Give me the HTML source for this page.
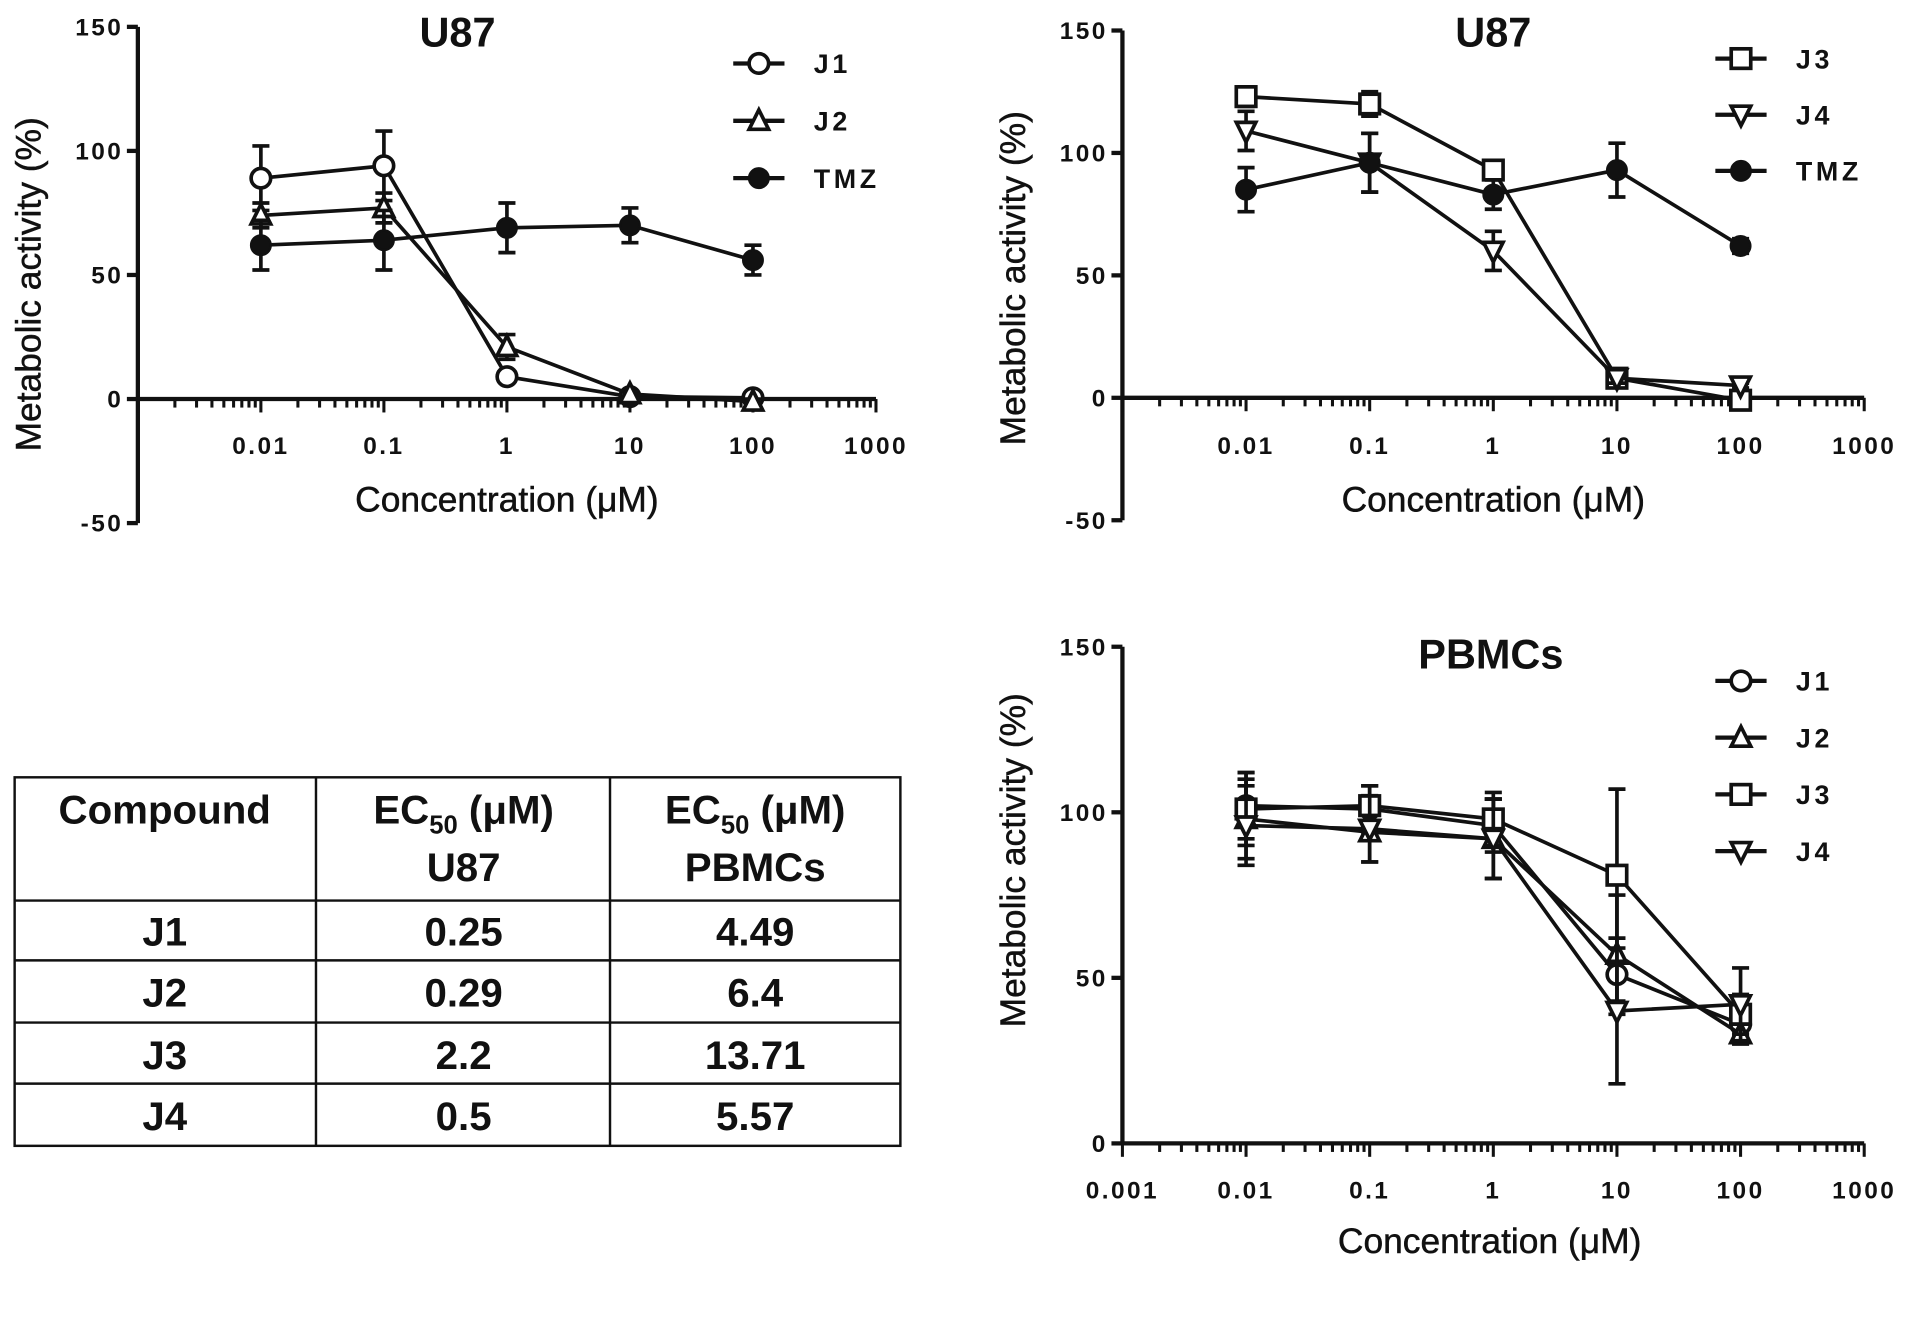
<!DOCTYPE html>
<html><head><meta charset="utf-8"><style>
html,body{margin:0;padding:0;background:#fff;}
svg{display:block;}
text{font-family:"Liberation Sans",sans-serif;fill:#111;}
.tick{font-size:20px;font-weight:bold;letter-spacing:2px;}
.atitle{font-size:29px;stroke:#111;stroke-width:0.4px;}
.ctitle{font-size:34px;font-weight:bold;}
.leg{font-size:22px;font-weight:bold;letter-spacing:3px;}
.tbl{font-size:33px;font-weight:bold;}
</style></head><body>
<svg id="fig" width="1913" height="1324" viewBox="0 0 1568 1085" preserveAspectRatio="none" xmlns="http://www.w3.org/2000/svg">
<g id="table">
<rect x="12" y="637" width="726" height="302" fill="none" stroke="#111" stroke-width="2"/>
<line x1="259" y1="637" x2="259" y2="939" stroke="#111" stroke-width="2"/>
<line x1="500" y1="637" x2="500" y2="939" stroke="#111" stroke-width="2"/>
<line x1="12" y1="738" x2="738" y2="738" stroke="#111" stroke-width="2"/>
<line x1="12" y1="787" x2="738" y2="787" stroke="#111" stroke-width="2"/>
<line x1="12" y1="838" x2="738" y2="838" stroke="#111" stroke-width="2"/>
<line x1="12" y1="888" x2="738" y2="888" stroke="#111" stroke-width="2"/>
<text class="tbl" x="135" y="675" text-anchor="middle">Compound</text>
<text class="tbl" x="380" y="675" text-anchor="middle">EC<tspan font-size="21" dy="8">50</tspan><tspan dy="-8"> (μM)</tspan></text>
<text class="tbl" x="380" y="722" text-anchor="middle">U87</text>
<text class="tbl" x="619" y="675" text-anchor="middle">EC<tspan font-size="21" dy="8">50</tspan><tspan dy="-8"> (μM)</tspan></text>
<text class="tbl" x="619" y="722" text-anchor="middle">PBMCs</text>
<text class="tbl" x="135" y="775" text-anchor="middle">J1</text><text class="tbl" x="380" y="775" text-anchor="middle">0.25</text><text class="tbl" x="619" y="775" text-anchor="middle">4.49</text>
<text class="tbl" x="135" y="825" text-anchor="middle">J2</text><text class="tbl" x="380" y="825" text-anchor="middle">0.29</text><text class="tbl" x="619" y="825" text-anchor="middle">6.4</text>
<text class="tbl" x="135" y="876" text-anchor="middle">J3</text><text class="tbl" x="380" y="876" text-anchor="middle">2.2</text><text class="tbl" x="619" y="876" text-anchor="middle">13.71</text>
<text class="tbl" x="135" y="926" text-anchor="middle">J4</text><text class="tbl" x="380" y="926" text-anchor="middle">0.5</text><text class="tbl" x="619" y="926" text-anchor="middle">5.57</text>
</g>
</svg>
<script>
const concentrations = [0.01, 0.1, 1, 10, 100];
const xTickLabels = ["0.001","0.01","0.1","1","10","100","1000"];
// Chart A (U87 left)
const a_J1 = [89, 94, 9, 1, 0.5];
const a_J1_err = [13, 14, 2, 1, 1];
const a_J2 = [74, 77, 21, 2, -1];
const a_J2_err = [5, 6, 5, 1, 1];
const a_TMZ = [62, 64, 69, 70, 56];
const a_TMZ_err = [10, 12, 10, 7, 6];
// Chart B (U87 right)
const b_J3 = [123, 120, 93, 8, -1];
const b_J3_err = [4, 5, 3, 2, 1];
const b_J4 = [109, 96, 60, 8, 5];
const b_J4_err = [8, 12, 8, 2, 1];
const b_TMZ = [85, 96, 83, 93, 62];
const b_TMZ_err = [9, 12, 6, 11, 3];
// Chart C (PBMCs)
const c_J1 = [102, 101, 96, 51, 36];
const c_J1_err = [10, 7, 8, 8, 5];
const c_J2 = [98, 94, 92, 57, 33];
const c_J2_err = [12, 9, 12, 18, 3];
const c_J3 = [101, 102, 98, 81, 39];
const c_J3_err = [11, 6, 8, 26, 6];
const c_J4 = [96, 95, 92, 40, 42];
const c_J4_err = [12, 10, 12, 22, 11];
const yTicksU87 = [-50, 0, 50, 100, 150];
const yTicksPB = [0, 50, 100, 150];

const NS = "http://www.w3.org/2000/svg";
const svg = document.getElementById('fig');
function mk(tag, attrs, parent){const e=document.createElementNS(NS,tag);for(const k in attrs)e.setAttribute(k,attrs[k]);(parent||svg).appendChild(e);return e;}

function marker(g, type, x, y){
  const s = 8;
  let e;
  if(type==='circle'){e=mk('circle',{cx:x,cy:y,r:s,fill:'#fff',stroke:'#111','stroke-width':3},g);}
  else if(type==='dot'){e=mk('circle',{cx:x,cy:y,r:s,fill:'#111',stroke:'#111','stroke-width':2},g);}
  else if(type==='square'){e=mk('rect',{x:x-s,y:y-s,width:2*s,height:2*s,fill:'#fff',stroke:'#111','stroke-width':3},g);}
  else if(type==='tri'){e=mk('polygon',{points:`${x},${y-s-1} ${x-s},${y+s-1} ${x+s},${y+s-1}`,fill:'#fff',stroke:'#111','stroke-width':3},g);}
  else {e=mk('polygon',{points:`${x},${y+s+1} ${x-s},${y-s+1} ${x+s},${y-s+1}`,fill:'#fff',stroke:'#111','stroke-width':3},g);}
  
  
}

function drawChart(cfg){
  const g = mk('g',{});
  
  
  const xs = v => cfg.x0 + (Math.log10(v)+3)*(cfg.x1-cfg.x0)/6;
  const ys = v => cfg.yZero - (v - 0)*(cfg.yZero - cfg.yTop)/(cfg.yMax);
  const ya = mk('line',{x1:cfg.x0,y1:ys(cfg.yTicks[cfg.yTicks.length-1]),x2:cfg.x0,y2:ys(cfg.yTicks[0]),stroke:'#111','stroke-width':3.5},g);
  
  
  cfg.yTicks.forEach(t=>{
    mk('line',{x1:cfg.x0-9,y1:ys(t),x2:cfg.x0,y2:ys(t),stroke:'#111','stroke-width':3.5},g);
    const tl = mk('text',{x:cfg.x0-12,y:ys(t)+7,'text-anchor':'end',class:'tick'},g);
    tl.textContent = t;
    
    
  });
  const xa = mk('line',{x1:cfg.x0,y1:ys(0),x2:cfg.x1,y2:ys(0),stroke:'#111','stroke-width':3.5},g);
  
  
  for(let d=-3; d<3; d++){
    for(let m=1; m<10; m++){
      const v = m*Math.pow(10,d);
      mk('line',{x1:xs(v),y1:ys(0),x2:xs(v),y2:ys(0)+(m===1?11:7),stroke:'#111','stroke-width':2.5},g);
    }
  }
  mk('line',{x1:cfg.x1,y1:ys(0),x2:cfg.x1,y2:ys(0)+11,stroke:'#111','stroke-width':2.5},g);
  xTickLabels.forEach((lab,i)=>{
    if(i===0 && !cfg.showFirst) return;
    const tl = mk('text',{x:xs(Math.pow(10,i-3)),y:cfg.xLabY,'text-anchor':'middle',class:'tick'},g);
    tl.textContent = lab;
    
    
  });
  const xt = mk('text',{x:(cfg.x0+cfg.x1)/2+(cfg.xtOff||0),y:cfg.xTitleY,'text-anchor':'middle',class:'atitle'},g);
  xt.textContent = 'Concentration (μM)';
  
  
  const yt = mk('text',{x:0,y:0,'text-anchor':'middle',class:'atitle',transform:`translate(${cfg.x0-80},${cfg.yTitleY}) rotate(-90)`},g);
  yt.textContent = 'Metabolic activity (%)';
  
  
  const ct = mk('text',{x:cfg.titleX,y:cfg.titleY,'text-anchor':'middle',class:'ctitle'},g);
  ct.textContent = cfg.title;
  
  
  cfg.series.forEach((s,si)=>{
    const sg = mk('g',{},g);
    
    
    s.vals.forEach((v,i)=>{
      const x=xs(concentrations[i]), e=s.err[i];
      mk('line',{x1:x,y1:ys(v+e),x2:x,y2:ys(v-e),stroke:'#111','stroke-width':3},sg);
      mk('line',{x1:x-7,y1:ys(v+e),x2:x+7,y2:ys(v+e),stroke:'#111','stroke-width':3},sg);
      mk('line',{x1:x-7,y1:ys(v-e),x2:x+7,y2:ys(v-e),stroke:'#111','stroke-width':3},sg);
    });
    const pts = s.vals.map((v,i)=>xs(concentrations[i])+','+ys(v)).join(' ');
    mk('polyline',{points:pts,fill:'none',stroke:'#111','stroke-width':3},sg);
    s.vals.forEach((v,i)=>marker(sg,s.type,xs(concentrations[i]),ys(v)));
    const ly = cfg.legY + si*cfg.legDy;
    const lg = mk('g',{},g);
    
    
    mk('line',{x1:cfg.legX-21,y1:ly,x2:cfg.legX+21,y2:ly,stroke:'#111','stroke-width':3.5},lg);
    marker(lg,s.type,cfg.legX,ly);
    const lt = mk('text',{x:cfg.legX+45,y:ly+8,class:'leg'},lg);
    lt.textContent = s.label;
  });
}

drawChart({name:'chart-u87-j1-j2', title:'U87', titleX:375, titleY:38, x0:113, x1:718, yZero:327, yTop:22, yMax:150, yTicks:yTicksU87,
  xLabY:372, xTitleY:419, yTitleY:233, legX:622, legY:52, legDy:47, showFirst:false,
  series:[{label:'J1',type:'circle',vals:a_J1,err:a_J1_err},{label:'J2',type:'tri',vals:a_J2,err:a_J2_err},{label:'TMZ',type:'dot',vals:a_TMZ,err:a_TMZ_err}]});
drawChart({name:'chart-u87-j3-j4', title:'U87', titleX:1224, titleY:38, x0:920, x1:1528, yZero:326, yTop:25, yMax:150, yTicks:yTicksU87,
  xLabY:372, xTitleY:419, yTitleY:228, legX:1427, legY:48, legDy:46, showFirst:false,
  series:[{label:'J3',type:'square',vals:b_J3,err:b_J3_err},{label:'J4',type:'itri',vals:b_J4,err:b_J4_err},{label:'TMZ',type:'dot',vals:b_TMZ,err:b_TMZ_err}]});
drawChart({name:'chart-pbmcs', title:'PBMCs', titleX:1222, titleY:548, x0:920, x1:1528, yZero:937, yTop:530, yMax:150, yTicks:yTicksPB,
  xLabY:982, xTitleY:1027, yTitleY:705, legX:1427, legY:558, legDy:46.5, showFirst:true, xtOff:-3,
  series:[{label:'J1',type:'circle',vals:c_J1,err:c_J1_err},{label:'J2',type:'tri',vals:c_J2,err:c_J2_err},{label:'J3',type:'square',vals:c_J3,err:c_J3_err},{label:'J4',type:'itri',vals:c_J4,err:c_J4_err}]});
</script>
</body></html>
